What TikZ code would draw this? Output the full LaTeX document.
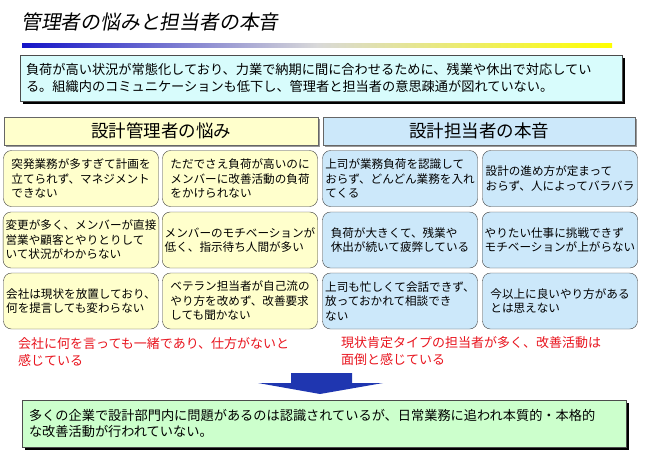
\documentclass[tikz,border=0pt]{standalone}
\usepackage{fontspec}
\setmainfont{Noto Sans CJK JP}
\newfontfamily\titlefont[FakeSlant=0.18]{Noto Sans CJK JP}
\usepackage{xcolor}
\definecolor{SummaryCyan}{HTML}{D8FCFC}
\definecolor{ManagerYellow}{HTML}{FFFFCC}
\definecolor{MemberBlue}{HTML}{CCE8FA}
\definecolor{ResultGreen}{HTML}{CCFFCC}
\definecolor{NoteRed}{HTML}{E8141E}
\definecolor{ArrowBlue}{HTML}{1F36B0}
\definecolor{LineBlue}{HTML}{1414C8}
\usepackage{tikz}
\usetikzlibrary{shadows}

\tikzset{
	hardbox/.style={draw=black!70,general shadow={fill=black,shadow xshift=2.5pt,shadow yshift=-2.5pt},text width=590pt,align=left,inner ysep=0pt,font=\fontsize{13.2}{16.5}\selectfont},
	headbox/.style={draw=black!60,general shadow={fill=black!40,shadow xshift=1.5pt,shadow yshift=-1.5pt},minimum height=28pt,font=\fontsize{17.5}{17.5}\selectfont},
	card/.style={draw=black!75,rounded corners=8pt,minimum width=155pt,minimum height=56pt,align=left,inner sep=2.5pt,font=\fontsize{11.6}{14.5}\selectfont},
	note/.style={text=NoteRed,align=left,anchor=west,inner sep=0pt,font=\fontsize{13}{17}\selectfont}
}

\begin{document}
\begin{tikzpicture}[x=1pt,y=-1pt]
	\useasboundingbox (0,0) rectangle (645,453);
	
	% title and bar
	\node[anchor=west,inner sep=0pt,font=\titlefont\fontsize{19.8}{19.8}\selectfont] (title) at (21,22) {管理者の悩みと担当者の本音};
	\shade[left color=LineBlue,right color=yellow,middle color=black!15] (22,43) rectangle (612,47);
	
	\node[hardbox,fill=SummaryCyan,minimum width=602pt,minimum height=46pt,inner xsep=6pt] (summary) at (321,78) {負荷が高い状況が常態化しており、力業で納期に間に合わせるために、残業や休出で対応してい\\る。組織内のコミュニケーションも低下し、管理者と担当者の意思疎通が図れていない。};
	
	% headers
	\node[headbox,fill=ManagerYellow,minimum width=314pt] (mgrHead) at (161,131) {設計管理者の悩み};
	\node[headbox,fill=MemberBlue,minimum width=312pt] (engHead) at (479,131) {設計担当者の本音};
	
	% manager cards
	\node[card,fill=ManagerYellow] (mgrA) at (81,178.5) {突発業務が多すぎて計画を\\立てられず、マネジメント\\できない};
	\node[card,fill=ManagerYellow] (mgrB) at (240,178.5) {ただでさえ負荷が高いのに\\メンバーに改善活動の負荷\\をかけられない};
	\node[card,fill=ManagerYellow] (mgrC) at (81,240) {変更が多く、メンバーが直接\\営業や顧客とやりとりして\\いて状況がわからない};
	\node[card,fill=ManagerYellow] (mgrD) at (240,240) {メンバーのモチベーションが\\低く、指示待ち人間が多い};
	\node[card,fill=ManagerYellow] (mgrE) at (81,301) {会社は現状を放置しており、\\何を提言しても変わらない};
	\node[card,fill=ManagerYellow] (mgrF) at (240,301) {ベテラン担当者が自己流の\\やり方を改めず、改善要求\\しても聞かない};
	
	% member cards
	\node[card,fill=MemberBlue] (engA) at (400,178.5) {上司が業務負荷を認識して\\おらず、どんどん業務を入れ\\てくる};
	\node[card,fill=MemberBlue] (engB) at (560,178.5) {設計の進め方が定まって\\おらず、人によってバラバラ};
	\node[card,fill=MemberBlue] (engC) at (400,240) {負荷が大きくて、残業や\\休出が続いて疲弊している};
	\node[card,fill=MemberBlue] (engD) at (560,240) {やりたい仕事に挑戦できず\\モチベーションが上がらない};
	\node[card,fill=MemberBlue] (engE) at (400,301) {上司も忙しくて会話できず、\\放っておかれて相談でき\\ない};
	\node[card,fill=MemberBlue] (engF) at (560,301) {今以上に良いやり方がある\\とは思えない};
	
	\node[note] (mgrNote) at (18,351.5) {会社に何を言っても一緒であり、仕方がないと\\感じている};
	\node[note] (engNote) at (341,351.5) {現状肯定タイプの担当者が多く、改善活動は\\面倒と感じている};
	
	\fill[ArrowBlue] (291,373) -- (352,373) -- (352,383) -- (383,383) -- (320,394) -- (258,383) -- (291,383) -- cycle;
	
	\node[hardbox,fill=ResultGreen,minimum width=604pt,minimum height=47pt,inner xsep=7pt] (result) at (324,423.5) {多くの企業で設計部門内に問題があるのは認識されているが、日常業務に追われ本質的・本格的\\な改善活動が行われていない。};
\end{tikzpicture}
\end{document}
